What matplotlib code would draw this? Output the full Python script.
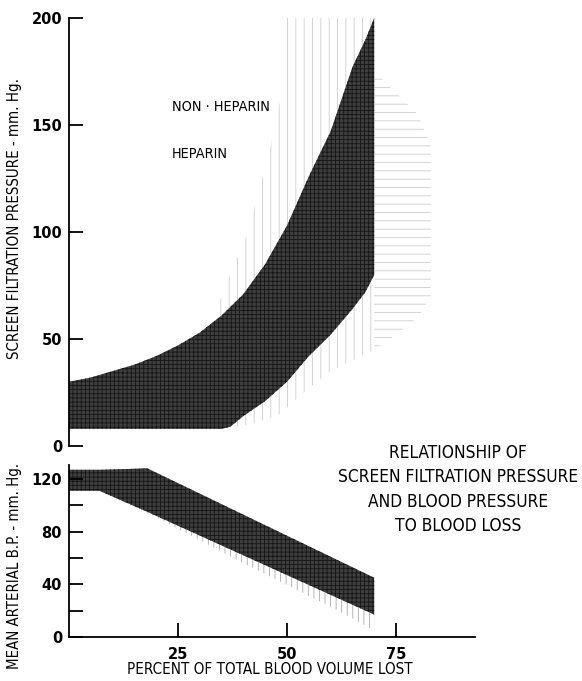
import numpy as np
import matplotlib
matplotlib.use("Agg")
import matplotlib.pyplot as plt

# ---- data ------------------------------------------------------------------
# top panel: screen filtration pressure (mm Hg) vs % blood volume lost
hep_x = [0, 5, 10, 15, 20, 25, 30, 35, 37, 40, 45, 50, 55, 60, 65, 68, 70]
hep_upper = [30, 32, 35, 38, 42, 47, 53, 61, 65, 71, 85, 103, 126, 147, 177, 190, 200]
hep_lower = [8, 8, 8, 8, 8, 8, 8, 8, 9, 14, 21, 30, 42, 52, 64, 72, 80]

# non-heparin band, left part (vertical screen) and right part (horizontal screen)
nonhep_x = [33, 37, 41, 43, 46, 48.5, 49.5, 55, 60, 65, 70]
nonhep_upper = [60, 80, 100, 115, 138, 162, 200, 200, 200, 200, 200]
nonhep_lower = [8, 9, 10, 11, 13, 15, 17, 27, 35, 40, 45]
nonhep_rx = [70, 75, 80, 83]
nonhep_rupper = [175, 165, 155, 140]
nonhep_rlower = [45, 52, 60, 70]

# bottom panel: mean arterial blood pressure (mm Hg)
bp_x = [0, 7, 18, 70]
bp_upper = [127, 127, 128, 45]
bp_lower = [111, 111, 95, 17]
bp_light_x = [7, 20, 40, 60, 70]
bp_light_lower = [111, 91, 56, 23, 5]
bp_light_upper = [111, 93, 62, 32, 17]

top_yticks = [0, 50, 100, 150, 200]
bot_yticks_major = [0, 40, 80, 120]
bot_yticks_minor = [20, 60, 100]
xticks = [25, 50, 75]

NARROW = dict(family=["Liberation Sans Narrow", "DejaVu Sans"], fontstretch="condensed")
DARK = "#3e3e3e"
plt.rcParams["hatch.linewidth"] = 0.6

fig = plt.figure(figsize=(5.82, 6.81), dpi=100)
W, H = 582.0, 681.0
left, width = 69 / W, 405.5 / W
ax1 = fig.add_axes([left, 1 - 446 / H, width, 428 / H])
ax2 = fig.add_axes([left, 1 - 637 / H, width, 172.5 / H])

# ---- top panel --------------------------------------------------------------
ax1.fill_between(nonhep_x, nonhep_lower, nonhep_upper, facecolor="none",
                 edgecolor="#cccccc", hatch="||", lw=0)
ax1.fill_between(nonhep_rx, nonhep_rlower, nonhep_rupper, facecolor="none",
                 edgecolor="#cccccc", hatch="--", lw=0)
ax1.fill_between(hep_x, hep_lower, hep_upper, facecolor=DARK,
                 edgecolor="#161616", hatch="++++", lw=0)
ax1.set_xlim(0, 93)
ax1.set_ylim(0, 200)
for s in ["top", "right", "bottom"]:
    ax1.spines[s].set_visible(False)
ax1.spines["left"].set_linewidth(1.3)
ax1.set_xticks([])
ax1.set_yticks(top_yticks)
ax1.tick_params(axis="y", direction="in", length=10, width=1.3, pad=5,
                labelsize=10.5)
for t in ax1.get_yticklabels():
    t.set_fontweight("bold")
ax1.text(0.254, 0.792, "NON · HEPARIN", transform=ax1.transAxes,
         fontsize=10.4, va="center", ha="left", **NARROW)
ax1.text(0.254, 0.682, "HEPARIN", transform=ax1.transAxes,
         fontsize=10.4, va="center", ha="left", **NARROW)

# ---- bottom panel -----------------------------------------------------------
ax2.fill_between(bp_light_x, bp_light_lower, bp_light_upper, facecolor="none",
                 edgecolor="#a8a8a8", hatch="|||", lw=0)
ax2.fill_between(bp_x, bp_lower, bp_upper, facecolor=DARK,
                 edgecolor="#161616", hatch="++++", lw=0)
ax2.set_xlim(0, 93)
ax2.set_ylim(0, 131)
for s in ["top", "right"]:
    ax2.spines[s].set_visible(False)
ax2.spines["left"].set_linewidth(1.3)
ax2.spines["bottom"].set_linewidth(1.3)
ax2.set_yticks(bot_yticks_major)
ax2.set_yticks(bot_yticks_minor, minor=True)
ax2.set_xticks(xticks)
ax2.tick_params(axis="both", which="both", direction="in", length=10, width=1.3,
                labelsize=10.5)
ax2.tick_params(axis="y", pad=5)
ax2.tick_params(axis="x", pad=7)
for t in ax2.get_yticklabels() + ax2.get_xticklabels():
    t.set_fontweight("bold")

# ---- labels -----------------------------------------------------------------
fig.text(15 / W, 1 - 218 / H, "SCREEN FILTRATION PRESSURE - mm. Hg.", rotation=90,
         fontsize=10.8, ha="center", va="center", **NARROW)
fig.text(15 / W, 1 - 566 / H, "MEAN ARTERIAL B.P. - mm. Hg.", rotation=90,
         fontsize=10.7, ha="center", va="center", **NARROW)
fig.text(270 / W, 1 - 670 / H, "PERCENT OF TOTAL BLOOD VOLUME LOST",
         fontsize=10.9, ha="center", va="center", **NARROW)
fig.text(458 / W, 1 - 489.5 / H,
         "RELATIONSHIP OF\nSCREEN FILTRATION PRESSURE\nAND BLOOD PRESSURE\nTO BLOOD LOSS",
         fontsize=12.4, ha="center", va="center", linespacing=1.45,
         multialignment="center", **NARROW)

fig.savefig("out.png", dpi=100)
